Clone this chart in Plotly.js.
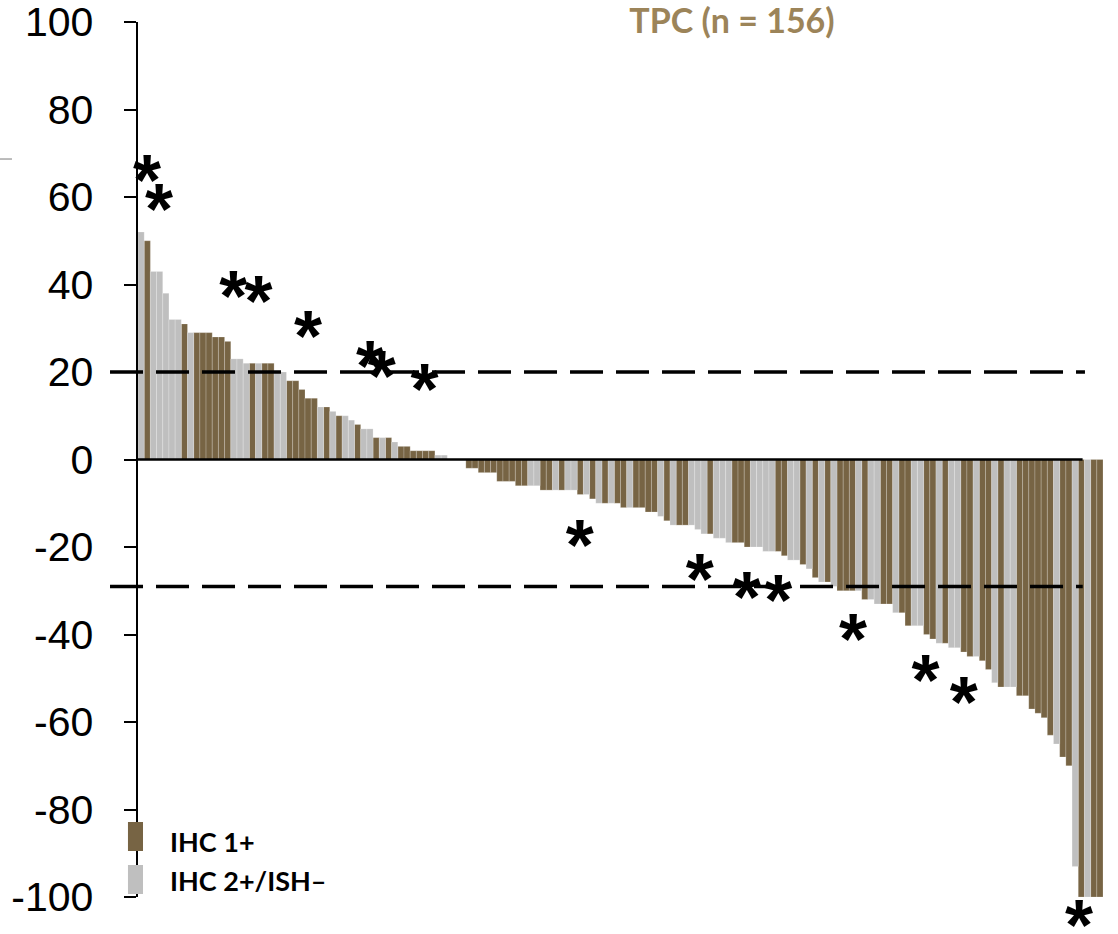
<!DOCTYPE html>
<html><head><meta charset="utf-8">
<script src="https://cdn.plot.ly/plotly-3.0.1.min.js"></script>
<style>html,body{margin:0;padding:0;background:#fff}#chart{width:1118px;height:934px}</style>
</head><body><div id="chart"></div>
<script>
// Best % change from baseline, one bar per patient (n = 156), sorted
const values = [
  52, 50, 43, 43, 38, 32, 32, 31, 29, 29,
  29, 29, 28, 28, 27, 23, 23, 22, 22, 22,
  22, 22, 20, 20, 18, 18, 16, 14, 14, 12,
  12, 11, 10, 10, 9, 8, 7, 7, 5, 5,
  5, 4, 3, 3, 2, 2, 2, 2, 1, 1,
  0, 0, 0, -2, -2, -3, -3, -3, -5, -5,
  -5, -6, -6, -6, -6, -7, -7, -7, -7, -7,
  -7, -8, -8, -9, -10, -10, -10, -10, -11, -11,
  -11, -11, -12, -12, -13, -14, -15, -15, -15, -15,
  -16, -17, -17, -18, -18, -19, -19, -19, -20, -20,
  -20, -21, -21, -21, -22, -23, -23, -24, -25, -27,
  -28, -28, -29, -30, -30, -30, -30, -32, -32, -33,
  -33, -33, -35, -35, -38, -38, -38, -40, -41, -42,
  -42, -43, -43, -44, -45, -45, -46, -48, -51, -52,
  -52, -52, -54, -54, -57, -58, -59, -63, -65, -68,
  -70, -93, -100, -100, -100, -100
];
// B = IHC 1+, G = IHC 2+/ISH-
const groups = (
  "GBGGGGGBGB" + "BBBBBGGGBG" + "BBGGBBBBBG" + "BGBGGBGGBG" + "BGBBBBBBGG" +
  "BGBBBBBBBB" + "BBBGGBBGBG" + "GBGBGBGBBG" + "BBBBGBGBBG" + "GGBGGGBBBG" +
  "GGGBBGGBGB" + "GBGBBBGBGG" + "BBGBBGGBBG" + "BGGBBGBBGB" + "GGBBBBBBGB" +
  "BGBGBB"
).split("");
const groupNames = {B: "IHC 1+", G: "IHC 2+/ISH\u2013"};
const groupColors = {B: "#776444", G: "#BFBFBF"};

// asterisk markers (bar position, % change where drawn)
const starX = [0.95, 2.9, 14.9, 19.0, 27.0, 37.0, 38.9, 45.8, 70.9, 90.3, 97.9, 103.0, 115.1, 126.8, 133.0, 151.7];
const starY = [65.9, 59.3, 39.3, 38.2, 30.2, 23.5, 21.0, 18.1, -17.6, -25.3, -29.3, -30.1, -39.1, -48.3, -53.5, -105.0];

const tickVals = [-100, -80, -60, -40, -20, 0, 20, 40, 60, 80, 100];
const tickText = ["-100", "-80", "-60", "-40", "-20", "0", "20", "40", "60", "80", "100"];
const thresholds = [20, -29];
const yRange = [-100, 100];

const idx = values.map((_, i) => i);
const traces = ["B", "G"].map(code => {
  const sel = idx.filter(i => groups[i] === code);
  return {
    type: "bar",
    name: groupNames[code],
    x: sel,
    y: sel.map(i => values[i]),
    width: 1,
    marker: {color: groupColors[code], line: {color: "rgba(255,255,255,0.4)", width: 0.5}},
    showlegend: false,
    hoverinfo: "x+y"
  };
});

const starSize = 72;
const starFont = {family: "Liberation Sans, Arial, sans-serif", size: starSize, color: "#000", weight: "bold"};
const pxPerUnit = 875 / (yRange[1] - yRange[0]);
const inRange = starY.map(v => v >= yRange[0] && v <= yRange[1]);
const inIdx = starX.map((_, i) => i).filter(i => inRange[i]);
const outIdx = starX.map((_, i) => i).filter(i => !inRange[i]);
traces.push({
  type: "scatter",
  mode: "text",
  x: inIdx.map(i => starX[i]),
  y: inIdx.map(i => starY[i] - 0.22 * starSize / pxPerUnit),
  text: inIdx.map(() => "*"),
  textposition: "middle center",
  textfont: starFont,
  cliponaxis: false,
  showlegend: false,
  hoverinfo: "skip"
});

const shapes = [
  // zero line
  {type: "line", xref: "x", yref: "y", x0: -0.5, x1: 152.2, y0: 0, y1: 0,
   line: {color: "#000", width: 2.5}, layer: "above"},
  // legend swatches
  {type: "rect", xref: "paper", yref: "paper", x0: -0.0104, x1: 0.0052, y0: 0.0526, y1: 0.0857,
   fillcolor: groupColors.B, line: {width: 0}, layer: "above"},
  {type: "rect", xref: "paper", yref: "paper", x0: -0.0104, x1: 0.0052, y0: 0.0034, y1: 0.0366,
   fillcolor: groupColors.G, line: {width: 0}, layer: "above"},
  // stray mark top-left
  {type: "line", xref: "paper", yref: "paper", x0: -0.143, x1: -0.1306, y0: 0.8434, y1: 0.8434,
   line: {color: "#A6A6A6", width: 1.5}}
];
thresholds.forEach((t, j) => shapes.push({
  type: "line", xref: "paper", yref: "y", x0: -0.029, x1: j === 0 ? 0.9813 : 0.979, y0: t, y1: t,
  line: {color: "#000", width: 3.5, dash: "33px,13px"}, layer: "above"
}));

const annotations = [
  {text: "<b>" + groupNames.B + "</b>", xref: "paper", yref: "paper", x: 0.0311, y: 0.064,
   xanchor: "left", yanchor: "middle", showarrow: false,
   font: {family: "Lato, sans-serif", size: 27, color: "#000"}},
  {text: "<b>" + groupNames.G + "</b>", xref: "paper", yref: "paper", x: 0.0311, y: 0.0183,
   xanchor: "left", yanchor: "middle", showarrow: false,
   font: {family: "Lato, sans-serif", size: 27, color: "#000"}}
];
// asterisks that fall below the axis range are placed relative to the plot area
outIdx.forEach(i => annotations.push({
  text: "*", xref: "x", yref: "paper", x: starX[i],
  y: (starY[i] - yRange[0]) / (yRange[1] - yRange[0]),
  xanchor: "center", yanchor: "middle", yshift: -0.08 * starSize,
  showarrow: false, font: starFont
}));

const layout = {
  width: 1118, height: 934, autosize: false,
  margin: {l: 138, r: 15, t: 22, b: 37, pad: 0},
  paper_bgcolor: "#fff", plot_bgcolor: "#fff",
  barmode: "overlay", bargap: 0,
  title: {
    text: "<b>TPC (n = 156)</b>",
    font: {family: "Lato, sans-serif", size: 34, color: "#9C8459"},
    xref: "container", yref: "container", x: 732 / 1118, xanchor: "center",
    y: 1 - 21 / 934, yanchor: "middle"
  },
  xaxis: {range: [-0.5, 155.5], visible: false, fixedrange: true},
  yaxis: {
    range: yRange, tickmode: "array", tickvals: tickVals, ticktext: tickText,
    ticks: "outside", ticklen: 12, tickwidth: 2, tickcolor: "#000",
    showline: true, linewidth: 2.5, linecolor: "#000",
    showgrid: false, zeroline: false, ticklabelstandoff: 22, ticklabeloverflow: "allow",
    tickfont: {family: "Liberation Sans, Arial, sans-serif", size: 41, color: "#000"},
    fixedrange: true
  },
  shapes: shapes,
  annotations: annotations,
  showlegend: false
};

Plotly.newPlot("chart", traces, layout, {displayModeBar: false, staticPlot: true});
</script>
</body></html>
